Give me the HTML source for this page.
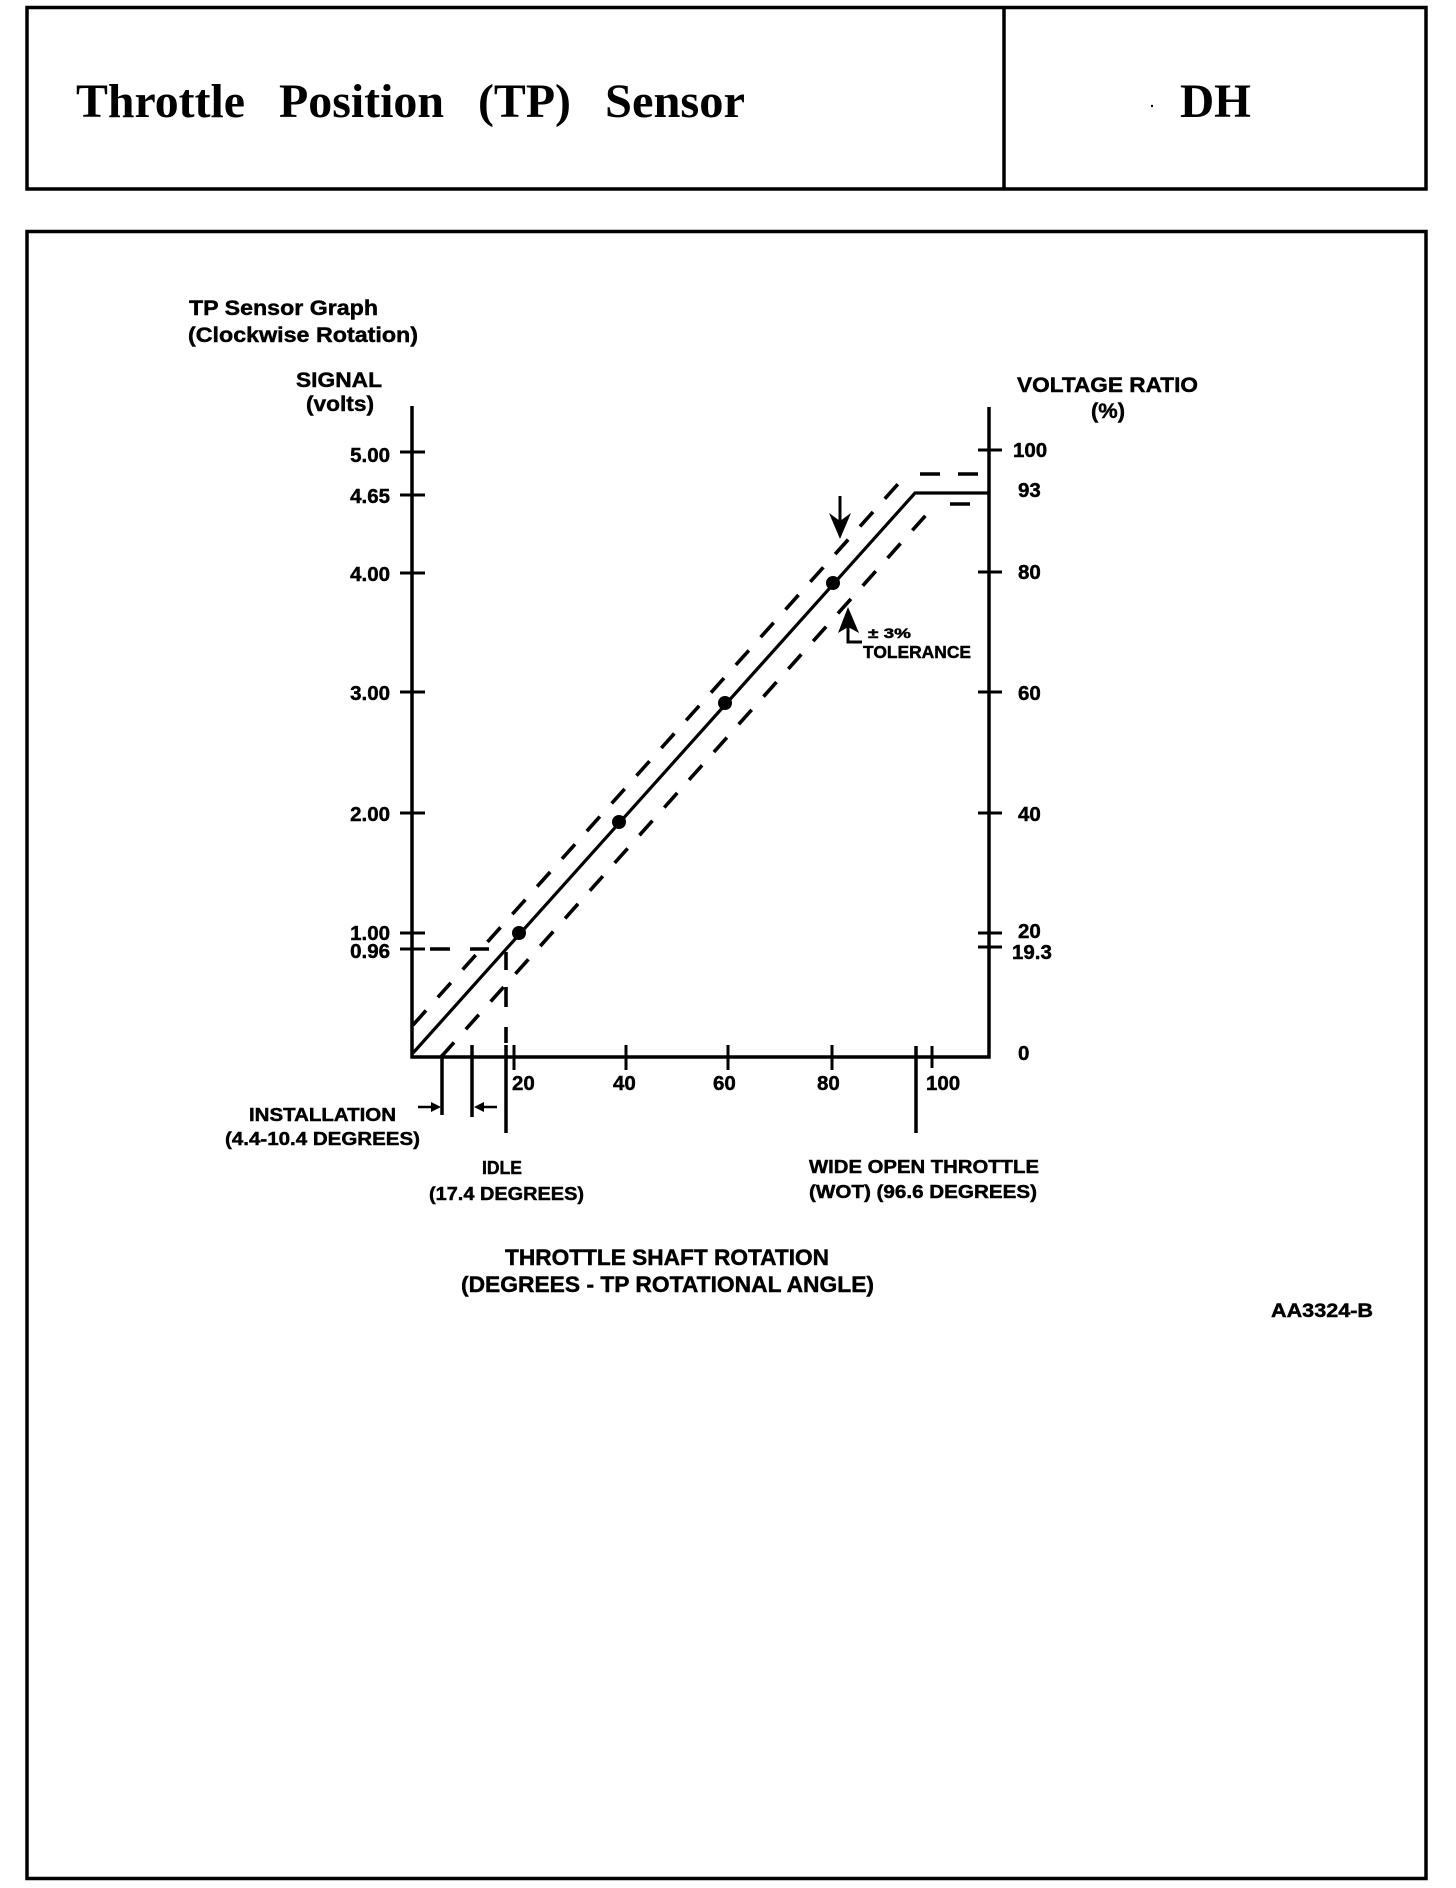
<!DOCTYPE html>
<html>
<head>
<meta charset="utf-8">
<style>
  html,body{margin:0;padding:0;background:#fff;}
  svg{display:block;}
  .s{font-family:"Liberation Sans",Arial,sans-serif;font-weight:bold;fill:#000;stroke:#000;stroke-width:0.45;}
  .t{font-family:"Liberation Serif","Times New Roman",serif;font-weight:bold;fill:#000;}
</style>
</head>
<body>
<svg width="1456" height="1888" viewBox="0 0 1456 1888" xmlns="http://www.w3.org/2000/svg">
  <rect x="0" y="0" width="1456" height="1888" fill="#fff"/>

  <!-- Header box -->
  <rect x="27" y="7.5" width="1399" height="181.5" fill="none" stroke="#000" stroke-width="3.5"/>
  <line x1="1004" y1="7.5" x2="1004" y2="189" stroke="#000" stroke-width="3.5"/>
  <text class="t" x="76" y="117" font-size="48" textLength="169" lengthAdjust="spacingAndGlyphs">Throttle</text>
  <text class="t" x="279" y="117" font-size="48" textLength="165" lengthAdjust="spacingAndGlyphs">Position</text>
  <text class="t" x="478" y="117" font-size="48" textLength="93" lengthAdjust="spacingAndGlyphs">(TP)</text>
  <text class="t" x="605" y="117" font-size="48" textLength="140" lengthAdjust="spacingAndGlyphs">Sensor</text>
  <text class="t" x="1180" y="117" font-size="48" textLength="71" lengthAdjust="spacingAndGlyphs">DH</text>
  <circle cx="1152" cy="106" r="1.2" fill="#000"/>

  <!-- Outer box -->
  <rect x="27" y="231.5" width="1399" height="1647" fill="none" stroke="#000" stroke-width="3.5"/>

  <!-- Titles -->
  <text class="s" x="189" y="315" font-size="21" textLength="189" lengthAdjust="spacingAndGlyphs">TP Sensor Graph</text>
  <text class="s" x="188" y="342" font-size="21" textLength="230" lengthAdjust="spacingAndGlyphs">(Clockwise Rotation)</text>
  <text class="s" x="296" y="387" font-size="21" textLength="86" lengthAdjust="spacingAndGlyphs">SIGNAL</text>
  <text class="s" x="306" y="411" font-size="21" textLength="68" lengthAdjust="spacingAndGlyphs">(volts)</text>
  <text class="s" x="1017" y="392" font-size="21" textLength="181" lengthAdjust="spacingAndGlyphs">VOLTAGE RATIO</text>
  <text class="s" x="1091" y="418" font-size="21" textLength="34" lengthAdjust="spacingAndGlyphs">(%)</text>

  <!-- Axes -->
  <g stroke="#000" stroke-width="3.5" fill="none">
    <line x1="412" y1="406" x2="412" y2="1058.5"/>
    <line x1="989" y1="407" x2="989" y2="1058.5"/>
    <line x1="410.5" y1="1057" x2="990.5" y2="1057"/>
  </g>

  <!-- Left ticks -->
  <g stroke="#000" stroke-width="3">
    <line x1="400" y1="452" x2="425" y2="452"/>
    <line x1="400" y1="495" x2="425" y2="495"/>
    <line x1="400" y1="573" x2="425" y2="573"/>
    <line x1="400" y1="692" x2="425" y2="692"/>
    <line x1="400" y1="813" x2="425" y2="813"/>
    <line x1="400" y1="933" x2="425" y2="933"/>
    <line x1="400" y1="949" x2="425" y2="949"/>
  </g>
  <!-- Right ticks -->
  <g stroke="#000" stroke-width="3">
    <line x1="978" y1="450" x2="1002" y2="450"/>
    <line x1="978" y1="572" x2="1002" y2="572"/>
    <line x1="978" y1="692" x2="1002" y2="692"/>
    <line x1="978" y1="813" x2="1002" y2="813"/>
    <line x1="978" y1="933" x2="1002" y2="933"/>
    <line x1="978" y1="947" x2="1002" y2="947"/>
  </g>
  <!-- X ticks -->
  <g stroke="#000" stroke-width="3">
    <line x1="514" y1="1045" x2="514" y2="1070"/>
    <line x1="626" y1="1045" x2="626" y2="1070"/>
    <line x1="728" y1="1045" x2="728" y2="1070"/>
    <line x1="832" y1="1045" x2="832" y2="1070"/>
    <line x1="932" y1="1046" x2="932" y2="1068"/>
  </g>

  <!-- Left labels -->
  <g class="s" font-size="20.5" text-anchor="end">
    <text x="390" y="462">5.00</text>
    <text x="390" y="503">4.65</text>
    <text x="390" y="581">4.00</text>
    <text x="390" y="700">3.00</text>
    <text x="390" y="821">2.00</text>
    <text x="390" y="940">1.00</text>
    <text x="390" y="958">0.96</text>
  </g>
  <!-- Right labels -->
  <g class="s" font-size="20.5">
    <text x="1013" y="457">100</text>
    <text x="1018" y="497">93</text>
    <text x="1018" y="579">80</text>
    <text x="1018" y="700">60</text>
    <text x="1018" y="821">40</text>
    <text x="1018" y="938">20</text>
    <text x="1012" y="959">19.3</text>
    <text x="1018" y="1060">0</text>
  </g>
  <!-- X labels -->
  <g class="s" font-size="20.5">
    <text x="512" y="1090">20</text>
    <text x="613" y="1090">40</text>
    <text x="713" y="1090">60</text>
    <text x="817" y="1090">80</text>
    <text x="926" y="1090">100</text>
  </g>

  <!-- Main characteristic line -->
  <polyline points="413,1053 915,493 989,493" fill="none" stroke="#000" stroke-width="3.2" stroke-linejoin="miter"/>

  <!-- Tolerance dashed lines -->
  <g stroke="#000" stroke-width="3.6" fill="none">
    <line x1="413" y1="1025" x2="907" y2="474" stroke-dasharray="19.5 17.7"/>
    <line x1="441" y1="1057" x2="935" y2="505" stroke-dasharray="19.5 17.7"/>
    <line x1="920" y1="474" x2="940" y2="474"/>
    <line x1="958" y1="474" x2="978" y2="474"/>
    <line x1="950" y1="504" x2="970" y2="504"/>
    <!-- 0.96 horizontal dashes -->
    <line x1="430" y1="949" x2="450" y2="949"/>
    <line x1="470" y1="949" x2="489" y2="949"/>
    <!-- idle dashed vertical -->
    <line x1="506" y1="952" x2="506" y2="970"/>
    <line x1="506" y1="987" x2="506" y2="1007"/>
    <line x1="506" y1="1027" x2="506" y2="1043"/>
  </g>

  <!-- Dots -->
  <g fill="#000">
    <circle cx="519" cy="933" r="7"/>
    <circle cx="619" cy="822" r="7"/>
    <circle cx="725" cy="703" r="7"/>
    <circle cx="833" cy="583" r="7"/>
  </g>

  <!-- Idle, installation, WOT lines -->
  <g stroke="#000" stroke-width="3.5">
    <line x1="506" y1="1045" x2="506" y2="1133"/>
    <line x1="442" y1="1055" x2="442" y2="1115"/>
    <line x1="472" y1="1045" x2="472" y2="1117"/>
    <line x1="916" y1="1046" x2="916" y2="1133"/>
  </g>
  <!-- installation arrows -->
  <g stroke="#000" stroke-width="2.5">
    <line x1="418" y1="1107" x2="434" y2="1107"/>
    <line x1="482" y1="1107" x2="497" y2="1107"/>
  </g>
  <polygon points="441,1107 431,1102 431,1112" fill="#000"/>
  <polygon points="474,1107 484,1102 484,1112" fill="#000"/>

  <!-- Tolerance arrows -->
  <line x1="840" y1="496" x2="840" y2="522" stroke="#000" stroke-width="3"/>
  <polygon points="829,513 840,539 851,513 840,521" fill="#000"/>
  <polygon points="838,633 848,607 859,633 848,627" fill="#000"/>
  <polyline points="848,627 848,642 862,642" fill="none" stroke="#000" stroke-width="3"/>
  <text class="s" x="868" y="638" font-size="14" textLength="43" lengthAdjust="spacingAndGlyphs">± 3%</text>
  <text class="s" x="863" y="658" font-size="17.5" textLength="108" lengthAdjust="spacingAndGlyphs">TOLERANCE</text>

  <!-- Bottom labels -->
  <text class="s" x="249" y="1121" font-size="18" textLength="147" lengthAdjust="spacingAndGlyphs">INSTALLATION</text>
  <text class="s" x="225" y="1145" font-size="18" textLength="195" lengthAdjust="spacingAndGlyphs">(4.4-10.4 DEGREES)</text>
  <text class="s" x="482" y="1174" font-size="18" textLength="40" lengthAdjust="spacingAndGlyphs">IDLE</text>
  <text class="s" x="429" y="1200" font-size="18" textLength="155" lengthAdjust="spacingAndGlyphs">(17.4 DEGREES)</text>
  <text class="s" x="809" y="1173" font-size="18" textLength="230" lengthAdjust="spacingAndGlyphs">WIDE OPEN THROTTLE</text>
  <text class="s" x="809" y="1198" font-size="18" textLength="228" lengthAdjust="spacingAndGlyphs">(WOT) (96.6 DEGREES)</text>
  <text class="s" x="505" y="1265" font-size="22" textLength="324" lengthAdjust="spacingAndGlyphs">THROTTLE SHAFT ROTATION</text>
  <text class="s" x="461" y="1292" font-size="22" textLength="413" lengthAdjust="spacingAndGlyphs">(DEGREES - TP ROTATIONAL ANGLE)</text>
  <text class="s" x="1271" y="1317" font-size="19" textLength="102" lengthAdjust="spacingAndGlyphs">AA3324-B</text>
</svg>
</body>
</html>
